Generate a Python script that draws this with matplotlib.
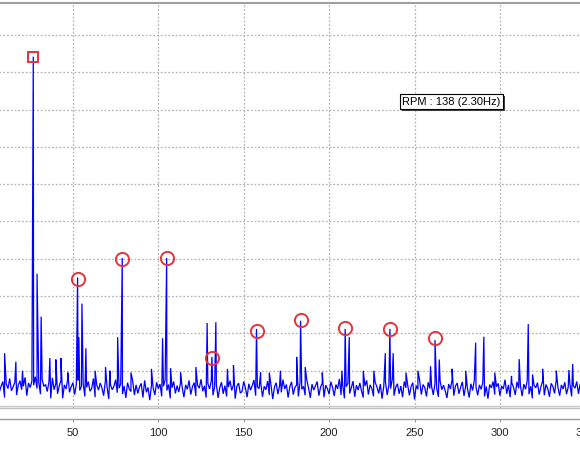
import numpy as np
import matplotlib
matplotlib.use("Agg")
import matplotlib.pyplot as plt
from matplotlib.lines import Line2D
from matplotlib.patches import Rectangle

plt.rcParams["font.family"] = ["Liberation Sans", "DejaVu Sans"]

# ---------------------------------------------------------------- data (y in grid units)

# noise floor, one value per order step 0..359
floor = [
    0.62, 0.48, 0.75, 0.31, 0.66, 0.53, 0.88, 0.44, 0.59, 0.71, 0.28, 0.64, 0.52, 0.79, 0.46, 0.57, 0.69, 0.35, 0.61, 0.73,
    0.49, 0.58, 0.82, 0.33, 0.67, 0.55, 0.72, 0.61, 0.84, 0.52, 0.69, 0.37, 0.76, 0.58, 0.63, 0.44, 0.71, 0.26, 0.81, 0.49,
    0.65, 0.38, 0.59, 0.73, 0.26, 0.62, 0.51, 0.78, 0.42, 0.57, 0.68, 0.36, 0.63, 0.74, 0.47, 0.58, 0.66, 0.31, 0.55, 0.71,
    0.45, 0.52, 0.79, 0.29, 0.61, 0.48, 0.67, 0.54, 0.33, 0.72, 0.56, 0.24, 0.63, 0.49, 0.58, 0.76, 0.41, 0.53, 0.65, 0.37,
    0.59, 0.27, 0.68, 0.51, 0.44, 0.73, 0.35, 0.62, 0.39, 0.57, 0.66, 0.28, 0.74, 0.42, 0.55, 0.21, 0.61, 0.53, 0.35, 0.69,
    0.52, 0.64, 0.31, 0.58, 0.75, 0.47, 0.63, 0.26, 0.54, 0.71, 0.39, 0.60, 0.43, 0.67, 0.55, 0.29, 0.62, 0.50, 0.74, 0.36,
    0.57, 0.68, 0.32, 0.61, 0.53, 0.77, 0.45, 0.59, 0.28, 0.66, 0.51, 0.72, 0.34, 0.58, 0.63, 0.27, 0.55, 0.69, 0.38, 0.60,
    0.31, 0.56, 0.73, 0.47, 0.62, 0.25, 0.58, 0.67, 0.40, 0.44, 0.71, 0.54, 0.29, 0.65, 0.48, 0.60, 0.75, 0.33, 0.57, 0.52,
    0.66, 0.30, 0.58, 0.49, 0.72, 0.35, 0.61, 0.24, 0.56, 0.68, 0.37, 0.59, 0.42, 0.76, 0.51, 0.63, 0.28, 0.57, 0.70, 0.36,
    0.55, 0.62, 0.31, 0.69, 0.50, 0.58, 0.34, 0.73, 0.53, 0.27, 0.64, 0.48, 0.59, 0.71, 0.33, 0.56, 0.67, 0.29, 0.61, 0.52,
    0.37, 0.70, 0.56, 0.32, 0.63, 0.51, 0.78, 0.35, 0.60, 0.26, 0.57, 0.66, 0.39, 0.54, 0.72, 0.30, 0.61, 0.48, 0.67, 0.45,
    0.28, 0.59, 0.74, 0.36, 0.62, 0.53, 0.31, 0.68, 0.57, 0.39, 0.64, 0.25, 0.58, 0.70, 0.35, 0.61, 0.52, 0.77, 0.33, 0.56,
    0.65, 0.38, 0.59, 0.29, 0.71, 0.54, 0.62, 0.34, 0.57, 0.68, 0.23, 0.60, 0.50, 0.74, 0.36, 0.63, 0.55, 0.31, 0.69, 0.52,
    0.58, 0.35, 0.66, 0.53, 0.30, 0.72, 0.49, 0.61, 0.46, 0.27, 0.64, 0.51, 0.75, 0.33, 0.59, 0.67, 0.38, 0.55, 0.70, 0.32,
    0.60, 0.52, 0.28, 0.65, 0.47, 0.73, 0.56, 0.34, 0.62, 0.50, 0.69, 0.31, 0.58, 0.25, 0.63, 0.54, 0.71, 0.36, 0.57, 0.66,
    0.33, 0.59, 0.51, 0.76, 0.38, 0.62, 0.29, 0.67, 0.55, 0.35, 0.70, 0.53, 0.60, 0.32, 0.64, 0.50, 0.73, 0.37, 0.58, 0.26,
    0.61, 0.54, 0.68, 0.36, 0.57, 0.72, 0.34, 0.63, 0.52, 0.30, 0.66, 0.58, 0.39, 0.75, 0.55, 0.33, 0.62, 0.51, 0.69, 0.37,
    0.56, 0.64, 0.31, 0.60, 0.53, 0.71, 0.38, 0.65, 0.27, 0.58, 0.62, 0.35, 0.70, 0.52, 0.59, 0.34, 0.67, 0.50, 0.61, 0.45,
]

# spectral lines above the floor: position and height
peak_x = [3.0, 10.0, 16.6, 20.5, 26.8, 29.0, 31.4, 36.5, 40.0, 43.0, 47.0,
          52.75, 53.5, 55.3, 57.6, 63.0, 69.1, 71.7, 76.2, 78.9, 84.0, 96.0,
          102.5, 104.9, 107.2, 113.0, 122.0, 128.6, 131.4, 133.7, 140.5, 144.0,
          157.5, 159.9, 165.0, 171.5, 181.0, 183.3, 186.0, 196.0,
          207.5, 209.4, 211.8, 220.0, 226.2, 232.9, 235.6, 237.5, 245.0, 252.0,
          259.4, 262.0, 264.5, 272.0, 280.0, 285.8, 290.6, 297.0, 306.8,
          311.3, 316.6, 319.1, 325.0, 333.0, 340.4, 342.6, 350.0]
peak_y = [1.05, 1.47, 1.24, 1.00, 9.42, 3.60, 2.45, 1.34, 1.30, 1.34, 0.95,
          3.50, 1.90, 2.80, 1.60, 1.00, 1.10, 1.00, 1.90, 4.02, 0.95, 1.05,
          1.87, 4.02, 1.07, 0.95, 1.10, 2.28, 1.37, 2.30, 1.05, 1.15,
          2.12, 0.95, 0.95, 1.00, 1.37, 2.34, 1.10, 0.95,
          1.00, 2.12, 1.90, 1.00, 1.00, 1.47, 2.12, 1.47, 0.95, 1.00,
          1.12, 1.82, 1.30, 1.05, 1.00, 1.75, 1.91, 0.95, 0.86,
          1.31, 2.25, 0.90, 1.05, 1.00, 1.02, 1.18, 1.05]

# marked running speed and harmonics
rpm_x, rpm_y = 26.8, 9.42
harm_x = [52.75, 78.9, 104.9, 131.4, 157.5, 183.3, 209.4, 235.6, 262.0]
harm_y = [3.46, 3.99, 4.02, 1.34, 2.06, 2.36, 2.14, 2.12, 1.88]

rpm_label = "RPM : 138 (2.30Hz)"
x_ticks = [50, 100, 150, 200, 250, 300, 350]

# ---------------------------------------------------------------- spectrum line
fx = np.arange(len(floor), dtype=float)
x = np.concatenate([fx, peak_x])
y = np.concatenate([floor, peak_y])
order = np.argsort(x, kind="stable")
x, y = x[order], y[order]

W, H = 580, 450
fig = plt.figure(figsize=(W / 100, H / 100), dpi=100)

x0_px, px_per_unit = -12.5, 1.708
xmax = 360
left = x0_px / W
width = xmax * px_per_unit / W
ax = fig.add_axes([left, (H - 408) / H, width, 405 / H])
ax.set_xlim(0, xmax)
ax.set_ylim(0, 405 / 37.3)

ax.plot(x, y, color="#0000ff", lw=0.9, solid_joinstyle="miter")
ax.plot([rpm_x], [rpm_y], marker="s", ms=7.2, mfc="none", mec="#e8323c", mew=1.4)
ax.plot(harm_x, harm_y, ls="none", marker="o", ms=9.5, mfc="none", mec="#e8323c", mew=1.4)

ax.set_xticks([0] + x_ticks)
ax.set_yticks(np.arange(0, 11))
ax.grid(True, color="#b4b4b4", lw=0.9, ls=(0, (1.5, 1.5)))
ax.tick_params(length=0, labelbottom=False, labelleft=False)
for s in ("left", "right"):
    ax.spines[s].set_visible(False)
ax.spines["top"].set_color("#a0a0a0")
ax.spines["top"].set_linewidth(1.5)
ax.spines["bottom"].set_color("#c0c0c0")
ax.spines["bottom"].set_linewidth(1.0)
fig.add_artist(Line2D([0, 1], [1 - 406 / H] * 2, transform=fig.transFigure,
                      color="#c8c8c8", lw=1.0))

# separate tick strip below the plot
axt = fig.add_axes([left, (H - 419) / H, width, 0.0001])
axt.set_xlim(0, xmax)
axt.set_ylim(0, 1)
axt.set_xticks(x_ticks)
axt.set_yticks([])
for s in ("left", "right", "top"):
    axt.spines[s].set_visible(False)
axt.spines["bottom"].set_color("#9a9a9a")
axt.spines["bottom"].set_linewidth(1.0)
axt.tick_params(axis="x", direction="out", length=2.5, width=0.8, color="#9a9a9a",
                pad=4, labelsize=8, labelcolor="#222222")
axt.patch.set_visible(False)

# RPM label box with shadow
bx, by, bw, bh = 400, 94, 103, 15
fig.add_artist(Rectangle(((bx + 2) / W, 1 - (by + bh + 2) / H), bw / W, bh / H,
                         transform=fig.transFigure, facecolor="#404040", edgecolor="none"))
fig.add_artist(Rectangle((bx / W, 1 - (by + bh) / H), bw / W, bh / H,
                         transform=fig.transFigure, facecolor="white",
                         edgecolor="black", lw=0.8))
fig.text((bx + 2.5) / W, 1 - (by + bh / 2 + 0.5) / H, rpm_label,
         fontsize=8, va="center", ha="left", color="black")

fig.savefig("out.png", dpi=100)
